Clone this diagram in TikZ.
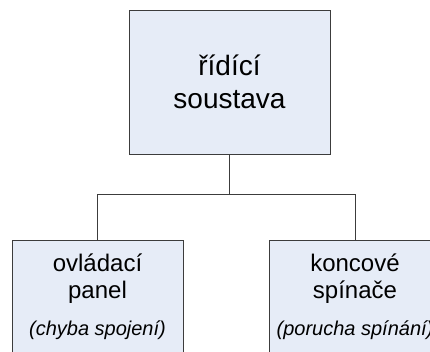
\documentclass[tikz,border=0pt]{standalone}
\usepackage{fontspec}
\setmainfont{Liberation Sans}
\usetikzlibrary{positioning}
\definecolor{boxfill}{RGB}{230,236,247}
\definecolor{boxline}{RGB}{60,60,60}

\begin{document}
\begin{tikzpicture}[x=1pt,y=-1pt,
    box/.style={rectangle,draw=boxline,fill=boxfill,line width=0.9pt,align=center,inner sep=0pt},
    big/.style={font=\fontsize{28}{33}\selectfont},
    small/.style={font=\fontsize{24}{27}\selectfont},
    note/.style={font=\fontsize{20}{24}\selectfont\itshape}]
  \clip (0,0) rectangle (430,351);

  \node[box,big,minimum width=201pt,minimum height=144pt] (ridici) at (229.5,82) {řídící\\soustava};
  \node[box,small,minimum width=171pt,minimum height=114pt] (panel) at (97.5,297)
    {ovládací\\panel\\[10pt]{\fontsize{20}{24}\selectfont\itshape (chyba spojení)}};
  \node[box,small,minimum width=171pt,minimum height=114pt] (spinace) at (355,297)
    {koncové\\spínače\\[10pt]{\fontsize{20}{24}\selectfont\itshape (porucha spínání)}};

  % branch point under the top box
  \coordinate (split) at (229.5,194);
  \draw[boxline,line width=0.9pt] (ridici.south) -- (split);
  \draw[boxline,line width=0.9pt] (split) -| (panel.north);
  \draw[boxline,line width=0.9pt] (split) -| (spinace.north);
\end{tikzpicture}
\end{document}
